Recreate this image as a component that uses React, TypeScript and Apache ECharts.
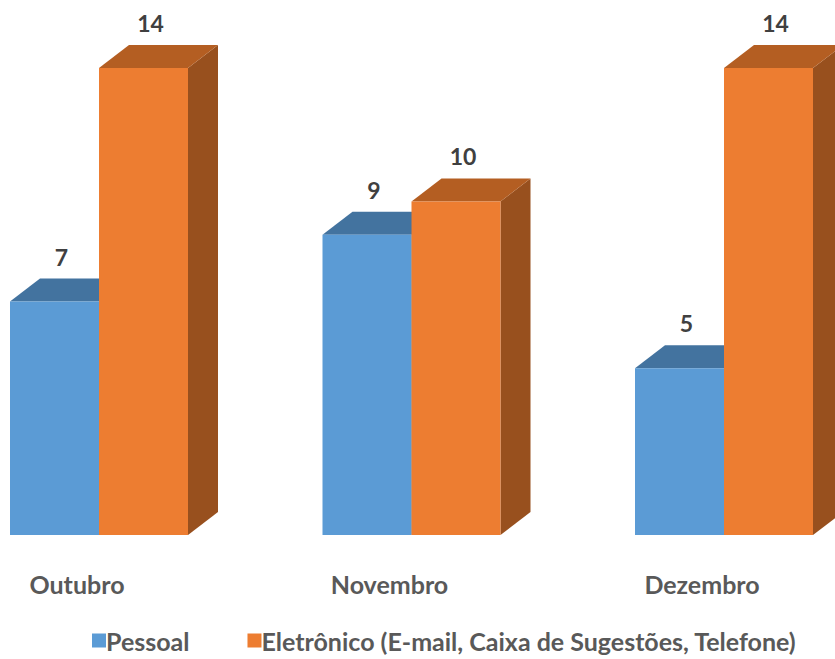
import React, { useEffect, useRef } from "react";
import * as echarts from "echarts";

const categories = ["Outubro", "Novembro", "Dezembro"];
const pessoal = [7, 9, 5];
const eletronico = [14, 10, 14];
const seriesNames = ["Pessoal", "Eletrônico (E-mail, Caixa de Sugestões, Telefone)"];

const palettes = [
  { front: "#5B9BD5", top: "#43739F", side: "#3C6A93" },
  { front: "#ED7D31", top: "#B45E22", side: "#98501E" },
];

const FONT = "Lato";

function makeRender(sideIdx: number) {
  const pal = palettes[sideIdx];
  return (params: any, api: any) => {
    const idx = api.value(0);
    const val = api.value(1);
    const base = api.coord([idx, 0]);
    const top = api.coord([idx, val]);
    const band = api.size([1, 0])[0];
    const w = band * 0.2848;
    const dx = 30;
    const dy = 23;
    const x0 = sideIdx === 0 ? base[0] - w : base[0];
    const x1 = x0 + w;
    const yT = top[1];
    const yB = base[1];
    return {
      type: "group",
      children: [
        {
          type: "polygon",
          shape: { points: [[x1, yT], [x1 + dx, yT - dy], [x1 + dx, yB - dy], [x1, yB]] },
          style: { fill: pal.side },
        },
        {
          type: "polygon",
          shape: { points: [[x0, yT], [x0 + dx, yT - dy], [x1 + dx, yT - dy], [x1, yT]] },
          style: { fill: pal.top },
        },
        {
          type: "rect",
          shape: { x: x0, y: yT, width: w, height: yB - yT },
          style: { fill: pal.front },
        },
        {
          type: "text",
          x: (x0 + x1) / 2 + 7,
          y: yT - dy - 22,
          style: {
            text: String(val),
            fill: "#404040",
            font: `bold 23px ${FONT}`,
            align: "center",
            verticalAlign: "middle",
          },
        },
      ],
    };
  };
}

export default function App() {
  const ref = useRef<HTMLDivElement>(null);
  useEffect(() => {
    if (!ref.current) return;
    const chart = echarts.init(ref.current, undefined, { renderer: "svg" });
    const datasets = [pessoal, eletronico];
    chart.setOption({
      animation: false,
      backgroundColor: "#ffffff",
      grid: {
        left: -57.25,
        right: -45.25,
        top: 68,
        bottom: 124,
        containLabel: false,
        outerBoundsMode: "none",
      },
      xAxis: {
        type: "category",
        data: categories,
        axisLine: { show: false },
        axisTick: { show: false },
        splitLine: { show: false },
        axisLabel: {
          margin: 36,
          color: "#595959",
          fontFamily: FONT,
          fontWeight: "bold",
          fontSize: 25,
          padding: [0, 44, 0, 0],
        },
      },
      yAxis: { type: "value", min: 0, max: 14, show: false },
      legend: {
        left: 92,
        top: 628,
        padding: 0,
        itemWidth: 14,
        itemHeight: 14,
        itemGap: 58,
        icon: "rect",
        textStyle: {
          color: "#595959",
          fontFamily: FONT,
          fontWeight: "bold",
          fontSize: 25,
          padding: [0, 0, 0, -5],
        },
        data: seriesNames,
      },
      series: datasets.map((vals, s) => ({
        type: "custom",
        name: seriesNames[s],
        itemStyle: { color: palettes[s].front },
        clip: false,
        renderItem: makeRender(s),
        encode: { x: 0, y: 1 },
        data: vals.map((v, i) => [i, v]),
      })),
    });
    return () => chart.dispose();
  }, []);
  return (
    <div
      ref={ref}
      style={{ position: "fixed", left: 0, top: 0, width: 835, height: 659 }}
    />
  );
}
